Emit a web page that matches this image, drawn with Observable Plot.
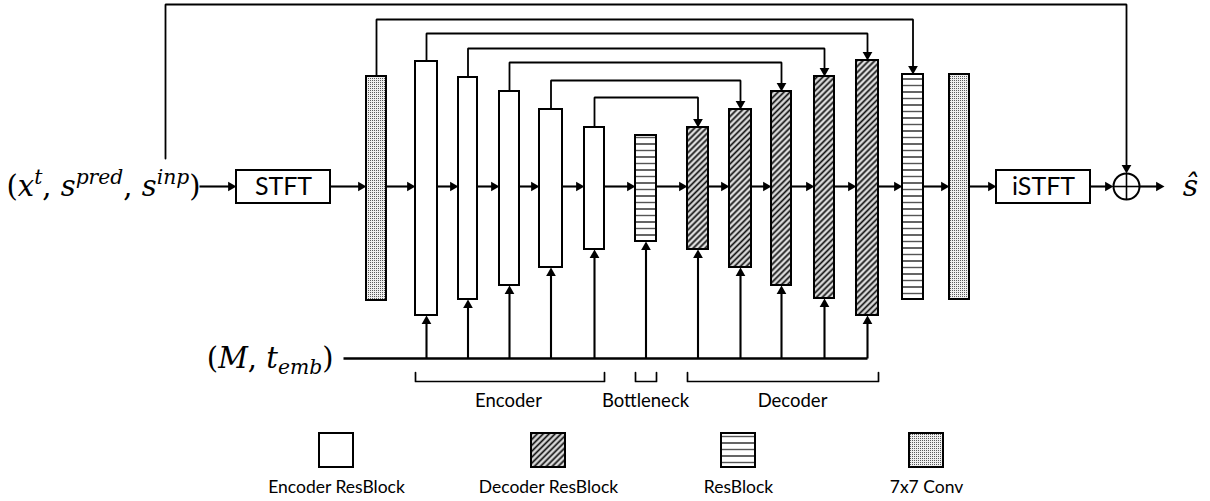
<!DOCTYPE html>
<html><head><meta charset="utf-8">
<script src="https://cdn.jsdelivr.net/npm/d3@7"></script>
<script src="https://cdn.jsdelivr.net/npm/@observablehq/plot@0.6"></script>
<style>html,body{margin:0;padding:0;background:#fff}</style>
</head><body><div id="chart"></div>
<script>
// ---------- data ----------
const blockKinds  = ["conv","enc","enc","enc","enc","enc","res","dec","dec","dec","dec","dec","res","conv"];
const blockLeft   = [366,415,458,499,539,584,635,687,729,771,814,856,902,949];
const blockRight  = [386,437,477,519,562,604,656,708,751,791,834,878,923,969];
const blockTop    = [76, 61, 77, 91,109,127,135,127,109, 91, 76, 60, 74, 74];
const blockBottom = [300,315,299,285,267,249,241,249,267,285,298,315,299,299];
const condBlocks  = [1,2,3,4,5,6,7,8,9,10,11];           // receive (M, t_emb)
const skipSrc     = [0,1,2,3,4,5];
const skipDst     = [12,11,10,9,8,7];
const skipLevel   = [19,33,48,62,80,97];
const boxLabels   = ["STFT","iSTFT"];
const boxLeft     = [236,996];
const boxRight    = [330,1090];
const boxTop      = 170, boxBottom = 203;
const flowY       = 186;
const inputEnd    = 199;
const sumCenter   = [1126,186], sumR = 13;
const outArrowEnd = 1164;
const globalSkip  = {x:165, yStart:158, level:4};
const condLine    = {x0:343, y:358};
const groupNames  = ["Encoder","Bottleneck","Decoder"];
const groupFrom   = [1,6,7];
const groupTo     = [5,6,11];
const groupLabelX = [508,645,792];
const legendKinds = ["enc","dec","res","conv"];
const legendNames = ["Encoder ResBlock","Decoder ResBlock","ResBlock","7x7 Conv"];
const legendX     = [336,548,738,926];
const inputText   = "(x^{t}, s^{pred}, s^{inp})";
const condText    = "(M, t_{emb})";
const outText     = "ŝ";

// ---------- derived tables ----------
const blocks = blockKinds.map((k,i)=>({kind:k,x1:blockLeft[i],x2:blockRight[i],y1:blockTop[i],y2:blockBottom[i],cx:(blockLeft[i]+blockRight[i])/2}));
const boxes = boxLabels.map((l,i)=>({label:l,x1:boxLeft[i],x2:boxRight[i],y1:boxTop,y2:boxBottom,cx:(boxLeft[i]+boxRight[i])/2}));
const fills = {enc:"white", dec:"url(#hatch)", res:"url(#stripes)", conv:"url(#dots)"};

const HEAD_R = 3.6;
const TIP = 2*Math.sqrt(Math.PI*HEAD_R*HEAD_R/(3*Math.sqrt(3))); // centroid-to-tip of d3 triangle
const HEAD = TIP + 0.5;
const arrows = [];
function arrow(x1,y1,x2,y2){ arrows.push({x1,y1,x2,y2}); }
// main chain
const chain = [[null,inputEnd],[boxes[0].x1,boxes[0].x2],...blocks.map(b=>[b.x1,b.x2]),[boxes[1].x1,boxes[1].x2],[sumCenter[0]-sumR,sumCenter[0]+sumR],[outArrowEnd,null]];
for(let i=0;i<chain.length-1;i++) arrow(chain[i][1],flowY,chain[i+1][0],flowY);
// conditioning arrows
condBlocks.forEach(i=>arrow(blocks[i].cx,condLine.y,blocks[i].cx,blocks[i].y2));
// skip polylines
const skipPts = [];
skipSrc.forEach((s,k)=>{
  const a=blocks[s], b=blocks[skipDst[k]];
  skipPts.push({id:k,x:a.cx,y:a.y1},{id:k,x:a.cx,y:skipLevel[k]},{id:k,x:b.cx,y:skipLevel[k]},{id:k,x:b.cx,y:b.y1-HEAD});
  arrows.push({x1:b.cx,y1:skipLevel[k],x2:b.cx,y2:b.y1,headOnly:true});
});
skipPts.push({id:"g",x:globalSkip.x,y:globalSkip.yStart},{id:"g",x:globalSkip.x,y:globalSkip.level},{id:"g",x:sumCenter[0],y:globalSkip.level},{id:"g",x:sumCenter[0],y:sumCenter[1]-sumR-HEAD});
arrows.push({x1:sumCenter[0],y1:globalSkip.level,x2:sumCenter[0],y2:sumCenter[1]-sumR,headOnly:true});

arrows.forEach(a=>{
  const dx=a.x2-a.x1, dy=a.y2-a.y1, L=Math.hypot(dx,dy);
  a.ux=dx/L; a.uy=dy/L;
  a.lx2=a.x2-a.ux*HEAD; a.ly2=a.y2-a.uy*HEAD;
  a.hx=a.x2-a.ux*TIP; a.hy=a.y2-a.uy*TIP;
  a.rot=Math.atan2(a.ux,-a.uy)*180/Math.PI;
});
const shafts = arrows.filter(a=>!a.headOnly);

const brackets = [];
groupNames.forEach((g,i)=>{
  const x1=blocks[groupFrom[i]].x1, x2=blocks[groupTo[i]].x2;
  brackets.push({id:g,x:x1,y:372},{id:g,x:x1,y:381},{id:g,x:x2,y:381},{id:g,x:x2,y:372});
});
const groupLabels = groupNames.map((g,i)=>({text:g,x:groupLabelX[i],y:401}));
const legend = legendKinds.map((k,i)=>({kind:k,name:legendNames[i],cx:legendX[i],x1:legendX[i]-17,x2:legendX[i]+17,y1:433,y2:467}));
const cross = [
  {x1:sumCenter[0]-sumR,y1:sumCenter[1],x2:sumCenter[0]+sumR,y2:sumCenter[1]},
  {x1:sumCenter[0],y1:sumCenter[1]-sumR,x2:sumCenter[0],y2:sumCenter[1]+sumR}];
const mathLabels = [{text:inputText,x:inputEnd+1,y:flowY},{text:condText,x:condLine.x0-10,y:condLine.y}];
const MATH_SIZE = 29;
const MATH_FONT = "DejaVu Serif";

// ---------- plot ----------
const rectMarks = (data)=>["enc","dec","res","conv"].map(k=>Plot.rect(data.filter(d=>d.kind===k),{x1:"x1",x2:"x2",y1:"y1",y2:"y2",fill:fills[k],stroke:"black",strokeWidth:2}));

const plot = Plot.plot({
  width:1210, height:501, margin:0,
  x:{domain:[0,1210],range:[0,1210],axis:null},
  y:{domain:[0,501],range:[0,501],axis:null},
  style:{background:"white",fontFamily:"Lato"},
  marks:[
    Plot.line(skipPts,{x:"x",y:"y",z:"id",stroke:"black",strokeWidth:1.8,strokeLinejoin:"miter",curve:"linear"}),
    Plot.link([{x1:condLine.x0,x2:blocks[condBlocks[condBlocks.length-1]].cx,y:condLine.y}],{x1:"x1",x2:"x2",y1:"y",y2:"y",stroke:"black",strokeWidth:2.6}),
    Plot.link(shafts,{x1:"x1",y1:"y1",x2:"lx2",y2:"ly2",stroke:"black",strokeWidth:2.1}),
    Plot.dot(arrows,{x:"hx",y:"hy",symbol:"triangle",r:HEAD_R,fill:"black",rotate:"rot"}),
    ...rectMarks(blocks),
    Plot.rect(boxes,{x1:"x1",x2:"x2",y1:"y1",y2:"y2",fill:"white",stroke:"black",strokeWidth:2}),
    Plot.text(boxes,{x:"cx",y:(boxTop+boxBottom)/2,text:"label",fontSize:25,fill:"black"}),
    Plot.dot([{x:sumCenter[0],y:sumCenter[1]}],{x:"x",y:"y",r:sumR,fill:"white",stroke:"black",strokeWidth:2}),
    Plot.link(cross,{x1:"x1",y1:"y1",x2:"x2",y2:"y2",stroke:"black",strokeWidth:1.6}),
    Plot.line(brackets,{x:"x",y:"y",z:"id",stroke:"black",strokeWidth:1.7,curve:"linear"}),
    Plot.text(groupLabels,{x:"x",y:"y",text:"text",fontSize:18.5,fill:"black"}),
    ...rectMarks(legend),
    Plot.text(legend,{x:"cx",y:487,text:"name",fontSize:17.5,fill:"black"}),
    Plot.text(mathLabels,{x:"x",y:"y",text:"text",textAnchor:"end",fontSize:MATH_SIZE,fontFamily:MATH_FONT,fill:"black"}),
    Plot.text([{t:outText,x:1190,y:flowY}],{x:"x",y:"y",text:"t",fontSize:30,fontStyle:"italic",fontFamily:MATH_FONT,fill:"black"})
  ]
});
document.getElementById("chart").appendChild(plot);

// ---------- patterns ----------
const svg = d3.select(plot.tagName.toLowerCase()==="svg"?plot:plot.querySelector("svg"));
const defs = svg.insert("defs",":first-child");
const h = defs.append("pattern").attr("id","hatch").attr("patternUnits","userSpaceOnUse").attr("width",4.2).attr("height",4.2).attr("patternTransform","rotate(45)");
h.append("rect").attr("width",4.2).attr("height",4.2).attr("fill","#dcdcdc");
h.append("line").attr("x1",2.1).attr("x2",2.1).attr("y1",0).attr("y2",4.2).attr("stroke","#111").attr("stroke-width",1.7);
const s = defs.append("pattern").attr("id","stripes").attr("patternUnits","userSpaceOnUse").attr("width",10).attr("height",13);
s.append("rect").attr("width",10).attr("height",13).attr("fill","white");
s.append("line").attr("x1",0).attr("x2",10).attr("y1",1).attr("y2",1).attr("stroke","#222").attr("stroke-width",1.4);
s.append("line").attr("x1",0).attr("x2",10).attr("y1",7.5).attr("y2",7.5).attr("stroke","#555").attr("stroke-width",1.4);
const dt = defs.append("pattern").attr("id","dots").attr("patternUnits","userSpaceOnUse").attr("width",2).attr("height",2);
dt.append("rect").attr("width",2).attr("height",2).attr("fill","#eeeeee");
dt.append("rect").attr("width",1).attr("height",1).attr("fill","#5a5a5a");

// ---------- math typesetting (super/subscripts, italic letters) ----------
svg.selectAll("text").filter(function(){return /[\^_]\{/.test(this.textContent);}).each(function(){
  const src=this.textContent, sel=d3.select(this); sel.text(null);
  const fs=MATH_SIZE; let shift=0; let m;
  const re=/([\^_])\{([^}]*)\}|([A-Za-z]+)|([^A-Za-z^_]+)/g;
  while((m=re.exec(src))){
    let target=0, txt, italic=true, small=false;
    if(m[1]){target=m[1]==="^"?-0.42*fs:0.22*fs;txt=m[2];small=true;}
    else if(m[3]){txt=m[3];}
    else {txt=m[4];italic=false;}
    const t=sel.append("tspan").text(txt).attr("dy",target-shift);
    shift=target;
    if(italic) t.attr("font-style","italic");
    if(small) t.attr("font-size",0.7*fs);
  }
});
</script></body></html>
